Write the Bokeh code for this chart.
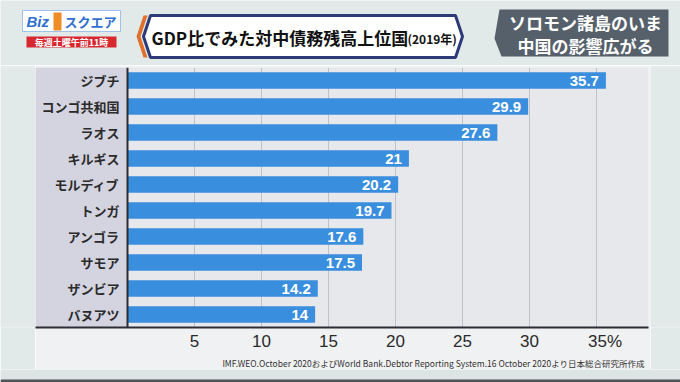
from bokeh.plotting import figure
from bokeh.layouts import column, row
from bokeh.models import (FactorRange, Range1d, ColumnDataSource, BoxAnnotation,
                          FixedTicker, Span, Title)
from bokeh.core.properties import value
from bokeh.embed import file_html
from bokeh.resources import INLINE

# ---- data ----
countries = ["ジブチ", "コンゴ共和国", "ラオス", "キルギス", "モルディブ",
             "トンガ", "アンゴラ", "サモア", "ザンビア", "バヌアツ"]
ratios = [35.7, 29.9, 27.6, 21, 20.2, 19.7, 17.6, 17.5, 14.2, 14]
ratio_labels = ["35.7", "29.9", "27.6", "21", "20.2", "19.7", "17.6", "17.5", "14.2", "14"]
x_ticks = [5, 10, 15, 20, 25, 30, 35]
tick_overrides = {35: "\u2002\u200235%"}
title_main = "GDP比でみた対中債務残高上位国"
title_year = "(2019年)"
side_lines = ["ソロモン諸島のいま", "中国の影響広がる"]
logo_biz = "Biz"
logo_sq = "スクエア"
logo_time = "毎週土曜午前11時"
source_note = "IMF.WEO.October  2020およびWorld Bank.Debtor Reporting System.16 October  2020より日本総合研究所作成"

JP = "Noto Sans CJK JP"
LAT = "Liberation Sans"
MINT = "#e1eae8"
PANEL = "#f0f1f2"
DARK = "#2d2d35"
CH = 304  # chart row height

# ================= header =================
h = figure(width=680, height=65, x_range=Range1d(0, 680), y_range=Range1d(65, 0),
           x_axis_type=None, y_axis_type=None, output_backend="svg",
           toolbar_location=None, min_border=0)
h.background_fill_color = MINT
h.border_fill_color = MINT
h.outline_line_color = None
h.grid.visible = False

# logo
h.quad(left=[22], right=[120], top=[10], bottom=[31], fill_color="white",
       line_color="#9fc3e6", line_width=1)
h.quad(left=[53], right=[61], top=[12], bottom=[30], fill_color="#f08c28", line_color=None)
h.text(x=[26], y=[21], text=[logo_biz], text_font=value(LAT), text_font_size="15px",
       text_font_style="bold italic", text_color="#2f6fcf", text_baseline="middle")
h.text(x=[64], y=[21], text=[logo_sq], text_font=value(JP), text_font_size="13px",
       text_font_style="bold", text_color="#2f6fcf", text_baseline="middle")
h.quad(left=[26], right=[116], top=[36], bottom=[47], fill_color="#d7282f", line_color=None)
h.text(x=[71], y=[41.5], text=[logo_time], text_font=value(JP), text_font_size="9px",
       text_font_style="bold", text_color="white", text_baseline="middle", text_align="center")

# title box
h.patch(x=[136, 143, 147, 140, 147, 143], y=[36, 15, 15, 36, 57, 57],
        fill_color="#e0702c", line_color=None)
h.patch(x=[143, 150, 455, 462, 455, 150], y=[36, 15, 15, 36, 57, 57],
        fill_color="white", line_color="#2c3a78", line_width=3)
h.text(x=[151], y=[36.5], text=[title_main], text_font=value(JP), text_font_size="17px",
       text_font_style="bold", text_color="#111111", text_baseline="middle")
h.text(x=[407], y=[37.5], text=[title_year], text_font=value(JP), text_font_size="12px",
       text_font_style="bold", text_color="#111111", text_baseline="middle")

# side box
h.patch(x=[499, 668, 668, 501, 494], y=[9, 9, 56, 56, 38],
        fill_color="#56606b", line_color=None)
h.text(x=[585, 585], y=[22, 45], text=side_lines, text_font=value(JP), text_font_size="17px",
       text_font_style="bold", text_color="white", text_baseline="middle", text_align="center")

# ================= chart =================
src = ColumnDataSource(dict(country=countries, ratio=ratios, label=ratio_labels))

p = figure(width=615, height=CH,
           y_range=FactorRange(factors=countries[::-1], range_padding=0),
           x_range=Range1d(-6.866, 38.88),
           output_backend="svg", toolbar_location=None,
           min_border_left=0, min_border_right=2,
           min_border_top=2, min_border_bottom=42)
p.background_fill_color = "#e7e8eb"
p.border_fill_color = PANEL
p.outline_line_color = None

# label column (left of zero)
p.add_layout(BoxAnnotation(right=0, fill_color="#d3d4e0", fill_alpha=1,
                           line_color=None, level="underlay"))

p.hbar(y="country", right="ratio", left=0, height=0.64, source=src,
       fill_color="#3a8ede", line_color=None)
p.text(x="ratio", y="country", text="label", source=src, x_offset=-7,
       text_align="right", text_baseline="middle", text_color="white",
       text_font=value(LAT), text_font_style="bold", text_font_size="15px")
# category labels
p.text(x=0, y="country", text="country", source=src, x_offset=-8,
       text_align="right", text_baseline="middle", text_color="#2b2b2b",
       text_font=value(JP), text_font_style="bold", text_font_size="13px")

p.add_layout(Span(location=0, dimension="height", line_color=DARK, line_width=2))

p.yaxis.visible = False
p.xaxis.ticker = FixedTicker(ticks=x_ticks)
p.xaxis.major_label_overrides = tick_overrides
p.xaxis.major_tick_line_color = None
p.xaxis.major_tick_out = 0
p.xaxis.major_tick_in = 0
p.xaxis.minor_tick_line_color = None
p.xaxis.minor_tick_out = 0
p.xaxis.axis_line_color = DARK
p.xaxis.axis_line_width = 2
p.xaxis.major_label_text_font = LAT
p.xaxis.major_label_text_font_size = "17px"
p.xaxis.major_label_text_color = "#2a2a2a"
p.xaxis.major_label_standoff = 4

p.ygrid.grid_line_color = None
p.xgrid.ticker = FixedTicker(ticks=x_ticks)
p.xgrid.grid_line_color = "#bfc2c6"
p.xgrid.grid_line_width = 1

p.add_layout(Title(text=source_note, align="right", text_font=JP, text_font_size="8.5px",
                   text_font_style="normal", text_color="#333333", standoff=2), "below")

def filler(w, hgt):
    f = figure(width=w, height=hgt, x_axis_type=None, y_axis_type=None,
               output_backend="svg", toolbar_location=None, min_border=0)
    f.background_fill_color = MINT
    f.border_fill_color = MINT
    f.outline_line_color = None
    f.grid.visible = False
    return f

# bottom frame strip
b = figure(width=680, height=13, x_range=Range1d(0, 680), y_range=Range1d(13, 0),
           x_axis_type=None, y_axis_type=None, output_backend="svg",
           toolbar_location=None, min_border=0)
b.background_fill_color = "#dde5e4"
b.border_fill_color = "#dde5e4"
b.outline_line_color = None
b.grid.visible = False
b.quad(left=[0], right=[680], top=[10], bottom=[13], fill_color="#4f5556", line_color=None)

layout = column(h, row(filler(35, CH), p, filler(30, CH), spacing=0), b, spacing=0)

open("out.html", "w").write(file_html(layout, INLINE))
